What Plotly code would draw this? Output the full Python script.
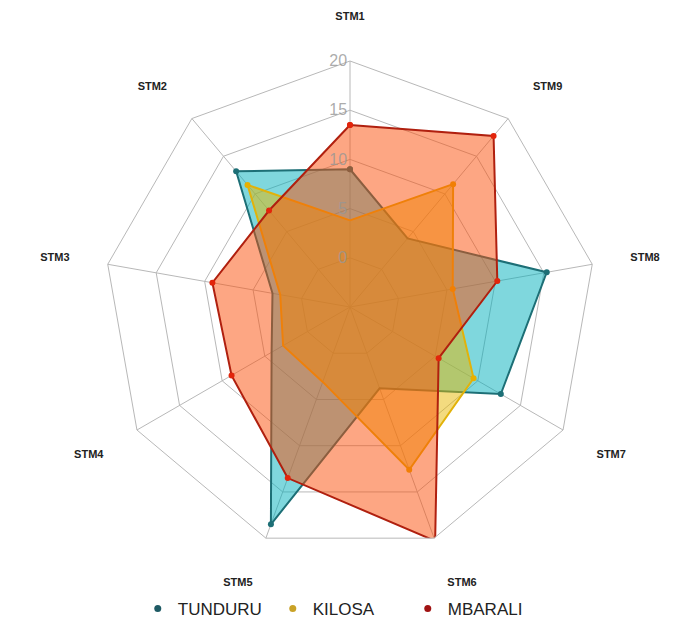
import plotly.graph_objects as go

categories = ["STM1", "STM2", "STM3", "STM4", "STM5", "STM6", "STM7", "STM8", "STM9"]
tunduru = [9.0, 13.0, 3.0, 4.2, 18.5, 3.8, 12.7, 15.3, 4.1]
kilosa = [3.8, 11.2, 2.2, 2.85, 3.1, 12.6, 9.5, 5.6, 11.3]
mbarali = [13.5, 7.8, 9.2, 8.9, 13.5, 20.3, 5.4, 10.2, 17.7]
series_names = ["TUNDURU", "KILOSA", "MBARALI"]
radial_ticks = [0, 5, 10, 15, 20]

series_values = [tunduru, kilosa, mbarali]
fill_colors = ["rgba(0,175,187,0.5)", "rgba(231,184,0,0.5)", "rgba(252,78,7,0.5)"]
line_colors = ["#1D6F76", "#E2B20A", "#B0200F"]
marker_colors = ["#1D6F76", "#E7B000", "#E2250B"]
legend_colors = ["#1E5A64", "#C9A227", "#A01212"]

fig = go.Figure()
for name, vals, fc, lc, mc in zip(series_names, series_values, fill_colors, line_colors, marker_colors):
    fig.add_trace(go.Scatterpolar(
        r=vals + vals[:1],
        theta=categories + categories[:1],
        mode="lines+markers",
        fill="toself",
        fillcolor=fc,
        line=dict(color=lc, width=2),
        marker=dict(color=mc, size=6),
        name=name,
        showlegend=False,
        cliponaxis=False,
    ))

for name, lc in zip(series_names, legend_colors):
    fig.add_trace(go.Scatterpolar(
        r=[None], theta=[categories[0]],
        mode="markers",
        marker=dict(color=lc, size=7),
        name=name,
        showlegend=True,
    ))

R = 246
cx, cy = 342, 299
W, H = 683, 619

fig.update_layout(
    width=W, height=H,
    margin=dict(l=0, r=0, t=0, b=0),
    paper_bgcolor="white",
    plot_bgcolor="white",
    font=dict(family="Liberation Sans, Arial, sans-serif"),
    polar=dict(
        domain=dict(x=[(cx - R) / W, (cx + R) / W], y=[1 - (cy + R) / H, 1 - (cy - R) / H]),
        bgcolor="white",
        gridshape="linear",
        radialaxis=dict(
            range=[-5, 20],
            tickvals=radial_ticks,
            angle=90,
            tickangle=90,
            side="counterclockwise",
            showline=False,
            gridcolor="#b8b8b8",
            gridwidth=1,
            ticks="",
            tickfont=dict(size=16, color="rgba(150,150,150,0.8)"),
            layer="above traces",
        ),
        angularaxis=dict(
            categoryorder="array",
            categoryarray=categories,
            direction="counterclockwise",
            rotation=90,
            showline=True,
            linecolor="#b8b8b8",
            gridcolor="#b8b8b8",
            ticks="outside",
            ticklen=36,
            tickcolor="rgba(0,0,0,0)",
            tickfont=dict(size=11, color="#222222", weight="bold"),
            layer="above traces",
        ),
    ),
    legend=dict(
        orientation="h",
        entrywidth=90,
        x=0.19, xanchor="left",
        y=0.0, yanchor="bottom",
        font=dict(size=17, color="#222222"),
    ),
)

fig.write_html("out.html")
